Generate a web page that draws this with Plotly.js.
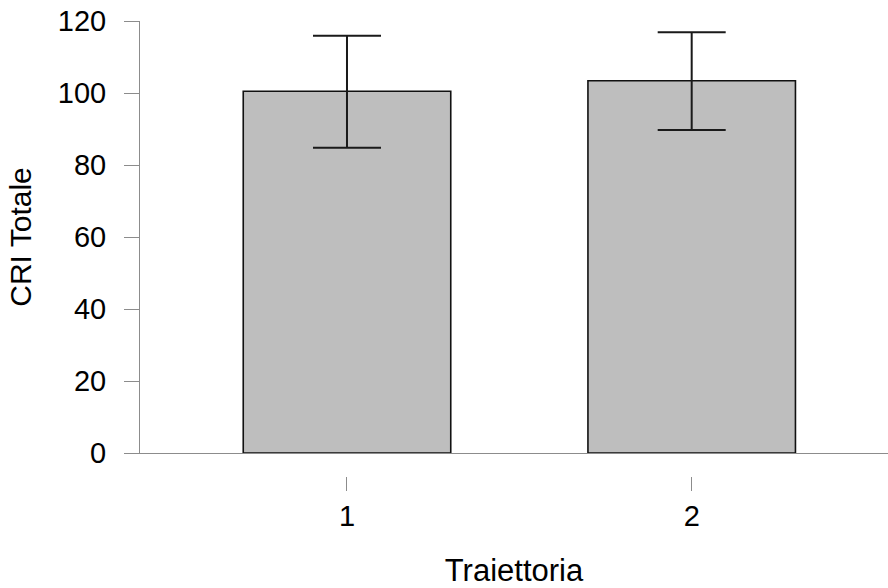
<!DOCTYPE html>
<html>
<head>
<meta charset="utf-8">
<script src="https://cdn.plot.ly/plotly-3.0.1.min.js"></script>
<style>html,body{margin:0;padding:0;background:#fff;}#chart{width:888px;height:588px;}</style>
</head>
<body>
<div id="chart"></div>
<script>
const categories = [1, 2];
const tickLabels = ['1', '2'];
const meanValues = [100.5, 103.4];
const upperValues = [115.9, 116.9];
const lowerValues = [84.8, 89.7];
const yTicks = [0, 20, 40, 60, 80, 100, 120];

const errPlus = meanValues.map((v, i) => upperValues[i] - v);
const errMinus = meanValues.map((v, i) => v - lowerValues[i]);

const FONT = 'Liberation Sans, Arial, sans-serif';
const AXIS_GRAY = '#8c8c8c';
const xRange = [0.3995, 2.5695];

const traces = [
  {
    type: 'bar',
    x: categories,
    y: meanValues,
    width: 0.602,
    marker: { color: '#bebebe', line: { color: '#111111', width: 1.6 } },
    error_y: {
      type: 'data', symmetric: false,
      array: errPlus, arrayminus: errMinus,
      color: '#1a1a1a', thickness: 2, width: 34
    },
    hoverinfo: 'skip',
    showlegend: false
  },
  {
    type: 'scatter',
    x: categories,
    y: meanValues,
    xaxis: 'x2',
    mode: 'none',
    hoverinfo: 'skip',
    showlegend: false
  }
];

const layout = {
  width: 888,
  height: 588,
  margin: { l: 140, r: 0, t: 21, b: 0 },
  paper_bgcolor: '#ffffff',
  plot_bgcolor: '#ffffff',
  font: { family: FONT, color: '#000000', size: 29 },
  showlegend: false,
  xaxis: {
    range: xRange,
    showline: true,
    linecolor: AXIS_GRAY,
    linewidth: 1,
    showticklabels: false,
    ticks: '',
    showgrid: false,
    zeroline: false,
    fixedrange: true
  },
  xaxis2: {
    overlaying: 'x',
    anchor: 'free',
    position: 0.1975,
    range: xRange,
    tickmode: 'array',
    tickvals: categories,
    ticktext: tickLabels,
    ticks: 'outside',
    ticklen: 14,
    tickcolor: AXIS_GRAY,
    tickwidth: 1,
    showline: false,
    showgrid: false,
    zeroline: false,
    tickfont: { family: FONT, size: 29, color: '#000000' },
    title: { text: 'Traiettoria', font: { family: FONT, size: 31, color: '#000000' }, standoff: 30 },
    fixedrange: true
  },
  yaxis: {
    domain: [0.2381, 1],
    range: [0, 120],
    tickmode: 'array',
    tickvals: yTicks,
    ticktext: yTicks.map(String),
    ticks: 'outside',
    ticklen: 15,
    tickcolor: AXIS_GRAY,
    tickwidth: 1,
    showline: true,
    linecolor: AXIS_GRAY,
    linewidth: 1,
    showgrid: false,
    zeroline: false,
    ticklabelstandoff: 12,
    tickfont: { family: FONT, size: 29, color: '#000000' },
    title: { text: 'CRI Totale', font: { family: FONT, size: 30, color: '#000000' }, standoff: 17 },
    fixedrange: true
  }
};

Plotly.newPlot('chart', traces, layout, { staticPlot: true, displayModeBar: false });
</script>
</body>
</html>
